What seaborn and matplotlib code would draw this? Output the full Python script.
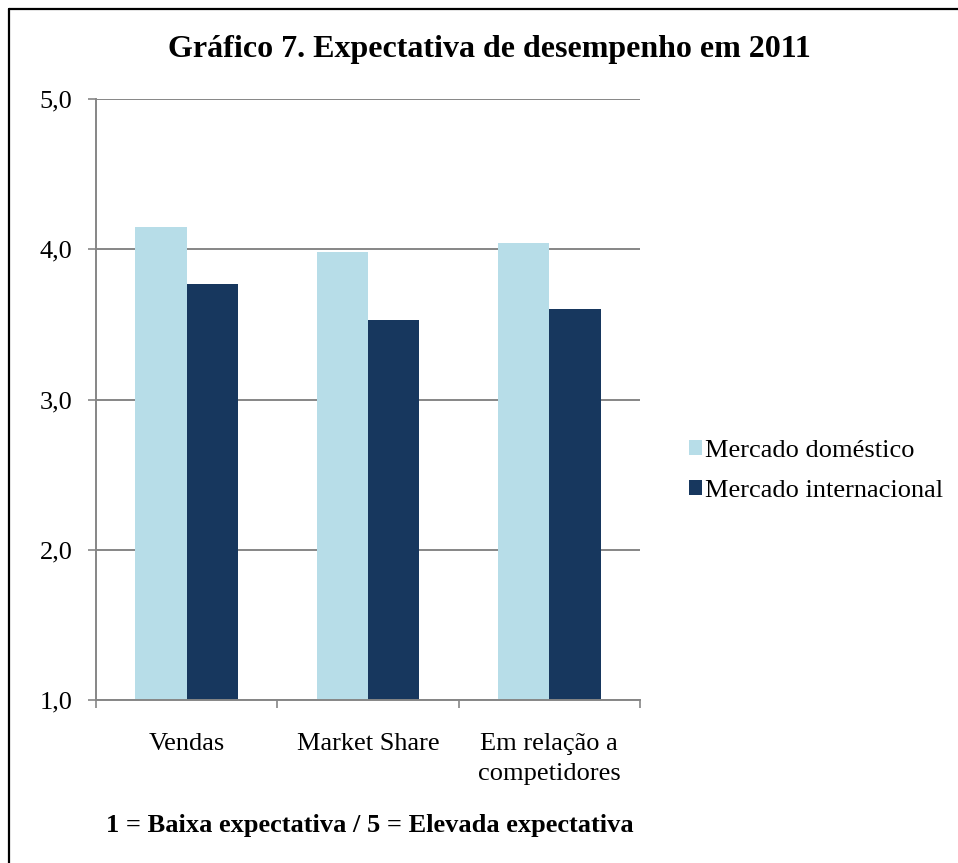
import matplotlib
matplotlib.use("Agg")
import matplotlib.pyplot as plt
from matplotlib.lines import Line2D
from matplotlib.patches import Patch
import seaborn as sns
import pandas as pd

# dados do gráfico
categorias = ["Vendas", "Market Share", "Em relação a\ncompetidores"]
series = ["Mercado doméstico", "Mercado internacional"]
domestico = [4.15, 3.98, 4.04]
internacional = [3.77, 3.53, 3.60]
y_ticks = [1.0, 2.0, 3.0, 4.0, 5.0]
y_labels = ["1,0", "2,0", "3,0", "4,0", "5,0"]
cores = ["#B7DDE8", "#17375E"]

df = pd.DataFrame({
    "categoria": categorias * 2,
    "serie": [series[0]] * 3 + [series[1]] * 3,
    "valor": domestico + internacional,
})

sns.set_style("white")
plt.rcParams["font.family"] = ["Liberation Serif", "DejaVu Serif"]
plt.rcParams["text.color"] = "black"
plt.rcParams["xtick.color"] = "black"
plt.rcParams["ytick.color"] = "black"

fig = plt.figure(figsize=(9.58, 8.63), dpi=100)
ax = fig.add_axes([96 / 958, 1 - 700 / 863, (640 - 96) / 958, (700 - 99) / 863])

# barras desenhadas a partir de y=1 (eixo começa em 1,0)
df["altura"] = df["valor"] - 1.0
sns.barplot(data=df, x="categoria", y="altura", hue="serie", palette=cores,
            width=0.565, gap=0, saturation=1, ax=ax, legend=False,
            bottom=1.0, linewidth=0)

ax.set_ylim(1.0, 5.0)
ax.set_xlim(-0.5, 2.5)
ax.set_yticks(y_ticks)
ax.set_yticklabels(y_labels)
ax.set_xlabel("")
ax.set_ylabel("")

# marcas do eixo x nos limites das categorias, rótulos no centro
ax.set_xticks([-0.5, 0.5, 1.5, 2.5])
ax.set_xticklabels([""] * 4)
ax.set_xticks([0, 1, 2], minor=True)
ax.set_xticklabels(categorias, minor=True)
for lbl in ax.get_xticklabels(minor=True):
    lbl.set_linespacing(1.45)
ax.tick_params(axis="x", which="major", direction="out", length=6, width=1.2,
               color="#868686", bottom=True)
ax.tick_params(axis="x", which="minor", length=0, pad=24, labelsize=19,
               labelcolor="black")
ax.tick_params(axis="y", direction="out", length=6, width=1.2, color="#868686",
               left=True, pad=11, labelsize=19, labelcolor="black")

ax.yaxis.grid(True, color="#868686", linewidth=1.4)
ax.set_axisbelow(True)
for s in ["top", "right"]:
    ax.spines[s].set_visible(False)
for s in ["left", "bottom"]:
    ax.spines[s].set_color("#868686")
    ax.spines[s].set_linewidth(1.4)

fig.text(489 / 958, 1 - 50 / 863, "Gráfico 7. Expectativa de desempenho em 2011",
         ha="center", va="center", fontsize=23, fontweight="bold", color="black")
fig.text(370 / 958, 1 - 825 / 863, "1 = Baixa expectativa / 5 = Elevada expectativa",
         ha="center", va="center", fontsize=19, fontweight="bold", color="black")

handles = [Patch(facecolor=c, edgecolor="none") for c in cores]
fig.legend(handles, series, loc="center left",
           bbox_to_anchor=(689 / 958, 1 - 471 / 863), frameon=False,
           fontsize=19, handlelength=0.5, handleheight=0.5,
           handletextpad=0.1, labelspacing=0.7, borderaxespad=0,
           borderpad=0, labelcolor="black")

# moldura (apenas esquerda e topo visíveis)
fig.add_artist(Line2D([9 / 958, 9 / 958], [0, 1 - 9 / 863], color="black",
                      linewidth=1.6, transform=fig.transFigure))
fig.add_artist(Line2D([9 / 958, 1], [1 - 9 / 863, 1 - 9 / 863], color="black",
                      linewidth=1.6, transform=fig.transFigure))

fig.savefig("out.png", dpi=100, facecolor="white")
